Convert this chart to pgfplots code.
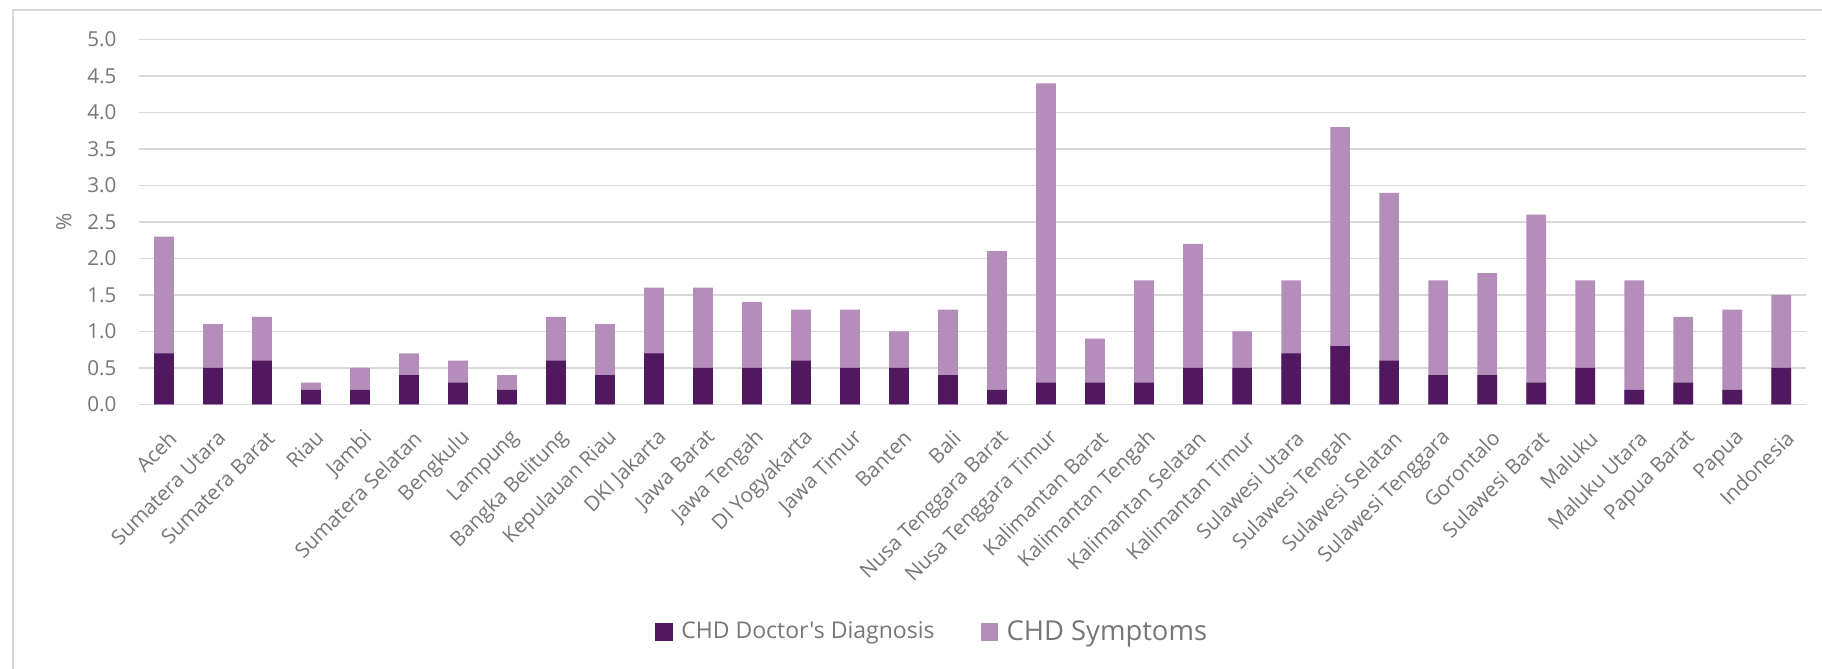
\documentclass[border=0pt]{standalone}
\usepackage{fontspec}
\setmainfont{Open Sans}
\newfontfamily\osans{Open Sans}
\usepackage{pgfplots}
\usepackage{pgfplotstable}
\pgfplotsset{compat=1.18}
\definecolor{darkp}{HTML}{50185F}
\definecolor{lightp}{HTML}{B48DBB}
\definecolor{txt}{HTML}{767676}
\definecolor{gridc}{HTML}{D9D9D9}

\pgfplotstableread{
x diag symp
0 0.7 2.3
1 0.5 1.1
2 0.6 1.2
3 0.2 0.3
4 0.2 0.5
5 0.4 0.7
6 0.3 0.6
7 0.2 0.4
8 0.6 1.2
9 0.4 1.1
10 0.7 1.6
11 0.5 1.6
12 0.5 1.4
13 0.6 1.3
14 0.5 1.3
15 0.5 1.0
16 0.4 1.3
17 0.2 2.1
18 0.3 4.4
19 0.3 0.9
20 0.3 1.7
21 0.5 2.2
22 0.5 1.0
23 0.7 1.7
24 0.8 3.8
25 0.6 2.9
26 0.4 1.7
27 0.4 1.8
28 0.3 2.6
29 0.5 1.7
30 0.2 1.7
31 0.3 1.2
32 0.2 1.3
33 0.5 1.5
}\chd

\begin{document}
\begin{tikzpicture}
\useasboundingbox (0,0) rectangle (911pt,334.5pt);
\draw[gridc, line width=1pt] (6.5pt,-2pt) -- (6.5pt,329.35pt) -- (915pt,329.35pt);
\begin{axis}[
  at={(69.7pt,132.3pt)}, anchor=south west,
  width=833.15pt, height=182.45pt, scale only axis,
  xmin=-0.5, xmax=33.5, ymin=0, ymax=5,
  ybar, bar width=9.85pt,
  axis line style={draw=none},
  major tick length=0pt,
  ymajorgrids, grid style={gridc, line width=0.8pt},
  ytick={0,0.5,...,5},
  yticklabel style={/pgf/number format/fixed, /pgf/number format/fixed zerofill, /pgf/number format/precision=1, /pgf/number format/assume math mode=true},
  yticklabel style={font=\fontsize{10.3}{12}\selectfont, text=txt, anchor=east, inner sep=0pt, xshift=-11.35pt},
  xtick=data,
  xticklabels={Aceh, Sumatera Utara, Sumatera Barat, Riau, Jambi, Sumatera Selatan, Bengkulu, Lampung, Bangka Belitung, Kepulauan Riau, DKI Jakarta, Jawa Barat, Jawa Tengah, DI Yogyakarta, Jawa Timur, Banten, Bali, Nusa Tenggara Barat, Nusa Tenggara Timur, Kalimantan Barat, Kalimantan Tengah, Kalimantan Selatan, Kalimantan Timur, Sulawesi Utara, Sulawesi Tengah, Sulawesi Selatan, Sulawesi Tenggara, Gorontalo, Sulawesi Barat, Maluku, Maluku Utara, Papua Barat, Papua, Indonesia},
  xticklabel style={font=\fontsize{10.3}{12}\selectfont, text=txt, inner sep=0pt, xshift=4.5pt, yshift=-15pt, rotate=45, anchor=east},
  ylabel={\%},
  ylabel style={at={(axis description cs:-0.0453,0.5)}, anchor=center, font=\fontsize{10.5}{12}\selectfont, text=txt},
  reverse legend,
  legend style={at={(axis description cs:0.3094,-0.6237)}, anchor=west, draw=none, fill=none, inner sep=0pt,
    /tikz/every odd column/.append style={column sep=4.15pt},
    /tikz/every even column/.append style={column sep=23pt},
    nodes={inner sep=0pt, text=txt}},
  legend columns=2,
]
\addplot[fill=lightp, draw=none, bar shift=0pt, legend image code/.code={\fill[lightp] (0pt,-4.3pt) rectangle (8.85pt,4.35pt);}] table[x=x, y=symp] {\chd};
\addlegendentry{\osans\fontsize{13.7}{15}\selectfont CHD Symptoms}
\addplot[fill=darkp, draw=none, bar shift=0pt, legend image code/.code={\fill[darkp] (0pt,-4.3pt) rectangle (8.85pt,4.35pt);}] table[x=x, y=diag] {\chd};
\addlegendentry{\osans\fontsize{11.5}{13}\selectfont CHD Doctor's Diagnosis}
\end{axis}
\end{tikzpicture}
\end{document}
